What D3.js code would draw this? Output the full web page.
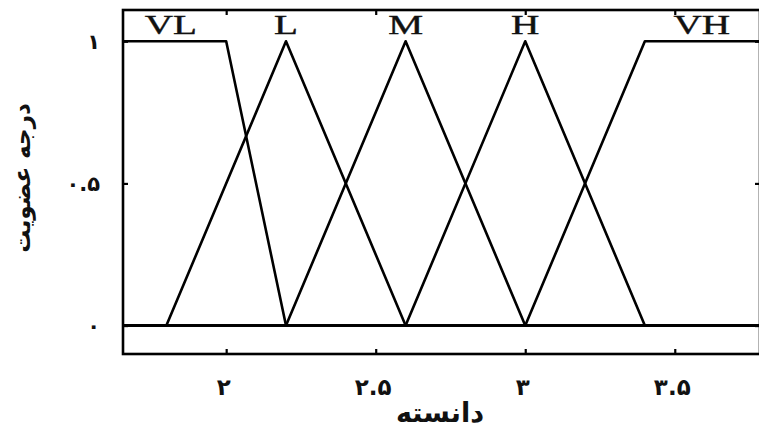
<!DOCTYPE html>
<html>
<head>
<meta charset="utf-8">
<script src="https://cdn.jsdelivr.net/npm/d3@7"></script>
<style>
  body { margin: 0; background: #fff; }
  svg { display: block; }
</style>
</head>
<body>
<svg id="chart" width="759" height="432"></svg>
<script>
// membership sets and their break points (x = دانسته, y = degree)
const setNames = ["VL", "L", "M", "H", "VH"];
const vlX = [1.655, 2.0, 2.2, 3.785];
const vlY = [1, 1, 0, 0];
const lX = [1.655, 1.8, 2.2, 2.6, 3.785];
const lY = [0, 0, 1, 0, 0];
const mX = [1.655, 2.2, 2.6, 3.0, 3.785];
const mY = [0, 0, 1, 0, 0];
const hX = [1.655, 2.6, 3.0, 3.4, 3.785];
const hY = [0, 0, 1, 0, 0];
const vhX = [1.655, 3.0, 3.4, 3.785];
const vhY = [0, 0, 1, 1];
const labelX = [1.815, 2.2, 2.6, 3.0, 3.59];

const xTicks = [2, 2.5, 3, 3.5];
const xTickLabels = ["۲", "۲.۵", "۳", "۳.۵"];
const yTicks = [0, 0.5, 1];
const yTickLabels = ["۰", "۰.۵", "۱"];

const xTitle = "دانسته";
const yTitle = "درجه عضویت";

const svg = d3.select("#chart");

// Set the dimensions of the plot box
const box = { left: 123, right: 760, top: 10, bottom: 354 };

const x = d3.scaleLinear().domain([1.655, 3.785]).range([box.left, box.right]);
const y = d3.scaleLinear().domain([-0.1, 1.11]).range([box.bottom, box.top]);

const setPoints = [
  [vlX, vlY], [lX, lY], [mX, mY], [hX, hY], [vhX, vhY]
].map(([xs, ys]) => xs.map((v, i) => [v, ys[i]]));

const line = d3.line().x((d) => x(d[0])).y((d) => y(d[1]));

// membership lines
svg.append("g")
  .selectAll("path")
  .data(setPoints)
  .enter()
  .append("path")
  .attr("d", line)
  .attr("fill", "none")
  .attr("stroke", "#000")
  .attr("stroke-width", 2.6)
  .attr("stroke-linejoin", "round");

// set names
svg.append("g")
  .selectAll("text")
  .data(setNames)
  .enter()
  .append("text")
  .attr("transform", (d, i) => `translate(${x(labelX[i])},34) scale(1.4,1)`)
  .attr("text-anchor", "middle")
  .attr("font-family", "Liberation Serif")
  .attr("font-size", 28)
  .attr("stroke", "#111")
  .attr("stroke-width", 0.4)
  .attr("fill", "#111")
  .text((d) => d);

// frame
svg.append("rect")
  .attr("x", box.left)
  .attr("y", box.top)
  .attr("width", box.right - box.left)
  .attr("height", box.bottom - box.top)
  .attr("fill", "none")
  .attr("stroke", "#000")
  .attr("stroke-width", 2.6);

// Add the X Axis (inward ticks, bottom and top)
const xAxis = svg.append("g")
  .attr("transform", `translate(0,${box.bottom})`)
  .call(d3.axisBottom(x).tickValues(xTicks).tickSizeInner(-5).tickSizeOuter(0)
    .tickFormat((d, i) => xTickLabels[i]));
xAxis.select(".domain").remove();
xAxis.selectAll(".tick line").attr("stroke-width", 2.2);
xAxis.selectAll(".tick text")
  .attr("x", -3)
  .attr("y", 41)
  .attr("dy", 0)
  .attr("font-family", "DejaVu Sans")
  .attr("font-weight", "bold")
  .attr("font-size", 23)
  .attr("fill", "#111");

const xTop = svg.append("g")
  .attr("transform", `translate(0,${box.top})`)
  .call(d3.axisTop(x).tickValues(xTicks).tickSizeInner(-5).tickSizeOuter(0).tickFormat(""));
xTop.select(".domain").remove();
xTop.selectAll(".tick line").attr("stroke-width", 2.2);

// Add the Y Axis (inward ticks, left and right)
const yAxis = svg.append("g")
  .attr("transform", `translate(${box.left},0)`)
  .call(d3.axisLeft(y).tickValues(yTicks).tickSizeInner(-5).tickSizeOuter(0)
    .tickFormat((d, i) => yTickLabels[i]));
yAxis.select(".domain").remove();
yAxis.selectAll(".tick line").attr("stroke-width", 2.2);
yAxis.selectAll(".tick text")
  .attr("x", -23)
  .attr("font-family", "DejaVu Sans")
  .attr("font-weight", "bold")
  .attr("font-size", 21)
  .attr("fill", "#111");

const yRight = svg.append("g")
  .attr("transform", `translate(${box.right},0)`)
  .call(d3.axisRight(y).tickValues(yTicks).tickSizeInner(-5).tickSizeOuter(0).tickFormat(""));
yRight.select(".domain").remove();
yRight.selectAll(".tick line").attr("stroke-width", 2.2);

// axis titles
svg.append("text")
  .attr("x", 440)
  .attr("y", 422)
  .attr("text-anchor", "middle")
  .attr("font-family", "DejaVu Sans")
  .attr("font-weight", "bold")
  .attr("font-size", 27)
  .attr("fill", "#111")
  .text(xTitle);

svg.append("text")
  .attr("transform", "translate(30,178) rotate(-90)")
  .attr("text-anchor", "middle")
  .attr("font-family", "DejaVu Sans")
  .attr("font-weight", "bold")
  .attr("font-size", 23)
  .attr("fill", "#111")
  .text(yTitle);
</script>
</body>
</html>
